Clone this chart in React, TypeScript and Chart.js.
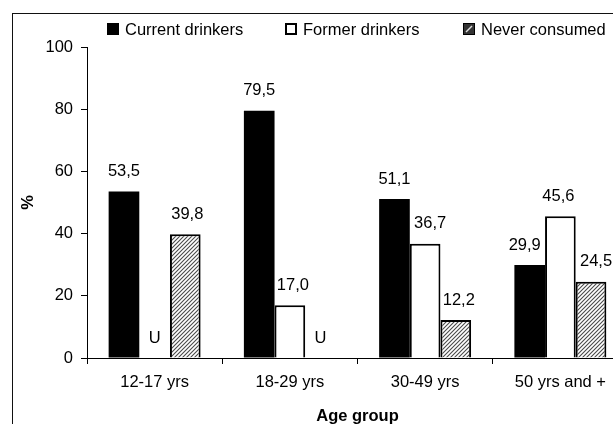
import React, { useEffect, useRef } from "react";
import { Chart, registerables } from "chart.js";

Chart.register(...registerables);

const categories = ["12-17 yrs", "18-29 yrs", "30-49 yrs", "50 yrs and +"];
const seriesNames = ["Current drinkers", "Former drinkers", "Never consumed"];
const currentDrinkers: (number | null)[] = [53.5, 79.5, 51.1, 29.9];
const formerDrinkers: (number | null)[] = [null, 17.0, 36.7, 45.6];
const neverConsumed: (number | null)[] = [39.8, null, 12.2, 24.5];
const yTicks = [0, 20, 40, 60, 80, 100];
const unreliableLabel = "U";
const xTitle = "Age group";
const yTitle = "%";

// style: small horizontal nudges of value labels (px), per series / category
const LABEL_NUDGE = [
  [0, 0, 0, -5],
  [0, 3, 5, -2],
  [2, 0, 3, 5],
];

const FONT = "'Liberation Sans', Arial, sans-serif";
const FS = 16.5;

function makeHatch(): CanvasPattern | string {
  const c = document.createElement("canvas");
  c.width = 4;
  c.height = 4;
  const g = c.getContext("2d");
  if (!g) return "#999";
  g.fillStyle = "#fff";
  g.fillRect(0, 0, 4, 4);
  g.strokeStyle = "#4a4a4a";
  g.lineWidth = 1.1;
  g.beginPath();
  g.moveTo(0, 4);
  g.lineTo(4, 0);
  g.moveTo(-1, 1);
  g.lineTo(1, -1);
  g.moveTo(3, 5);
  g.lineTo(5, 3);
  g.stroke();
  return g.createPattern(c, "repeat") || "#999";
}

const fmt = (v: number) => v.toFixed(1).replace(".", ",");

export default function App() {
  const ref = useRef<HTMLCanvasElement | null>(null);

  useEffect(() => {
    const canvas = ref.current;
    if (!canvas) return;
    const hatch = makeHatch();

    const dataLabels = {
      id: "dataLabels",
      afterDatasetsDraw(chart: any) {
        const ctx = chart.ctx;
        const yScale = chart.scales.y;
        ctx.save();
        ctx.fillStyle = "#000";
        ctx.font = `${FS}px ${FONT}`;
        ctx.textAlign = "center";
        ctx.textBaseline = "middle";
        chart.data.datasets.forEach((ds: any, i: number) => {
          const meta = chart.getDatasetMeta(i);
          meta.data.forEach((el: any, j: number) => {
            const v = ds.data[j];
            const text = v == null ? unreliableLabel : fmt(v);
            const y = yScale.getPixelForValue(v == null ? 0 : v) - 20;
            const dx = (LABEL_NUDGE[i] && LABEL_NUDGE[i][j]) || 0;
            ctx.fillText(text, el.x + dx, y);
          });
        });
        ctx.restore();
      },
    };

    const legendPlugin = {
      id: "customLegend",
      afterDraw(chart: any) {
        const ctx = chart.ctx;
        const xs = [107, 285, 463];
        const fills: any[] = ["#000", "#fff", hatch];
        ctx.save();
        ctx.font = `${FS}px ${FONT}`;
        ctx.textBaseline = "alphabetic";
        ctx.textAlign = "left";
        seriesNames.forEach((name, i) => {
          const x = xs[i];
          const y = 23;
          ctx.fillStyle = fills[i];
          ctx.fillRect(x, y, 12, 12);
          if (i > 0) {
            ctx.strokeStyle = "#000";
            ctx.lineWidth = 2;
            ctx.strokeRect(x + 1, y + 1, 10, 10);
          }
          if (i === 2) {
            ctx.fillStyle = "#333";
            ctx.fillRect(x + 1, y + 1, 10, 10);
            ctx.strokeStyle = "#ddd";
            ctx.lineWidth = 1.5;
            ctx.beginPath();
            ctx.moveTo(x + 3, y + 9);
            ctx.lineTo(x + 9, y + 3);
            ctx.stroke();
          }
          ctx.fillStyle = "#000";
          ctx.fillText(name, x + 18, 35);
        });
        ctx.restore();
      },
    };

    const chart = new Chart(canvas, {
      type: "bar",
      data: {
        labels: categories,
        datasets: [
          {
            label: seriesNames[0],
            data: currentDrinkers,
            backgroundColor: "#000",
            borderWidth: 0,
          },
          {
            label: seriesNames[1],
            data: formerDrinkers,
            backgroundColor: "#fff",
            borderColor: "#000",
            borderWidth: 2,
          },
          {
            label: seriesNames[2],
            data: neverConsumed,
            backgroundColor: hatch as any,
            borderColor: "#000",
            borderWidth: 2,
          },
        ] as any,
      },
      options: {
        responsive: false,
        animation: false,
        devicePixelRatio: 1,
        layout: { padding: { left: 0, top: 47, right: 72, bottom: 0 } },
        datasets: {
          bar: { categoryPercentage: 0.68, barPercentage: 1.0 },
        } as any,
        plugins: {
          legend: { display: false },
          tooltip: { enabled: false },
          title: { display: false },
        },
        scales: {
          x: {
            grid: {
              display: true,
              drawOnChartArea: false,
              drawTicks: true,
              tickLength: 6,
              color: "#000",
              offset: true,
            },
            border: { display: true, color: "#000", width: 1 },
            ticks: {
              color: "#000",
              font: { family: FONT, size: FS },
              padding: 9,
              maxRotation: 0,
              autoSkip: false,
            },
            title: {
              display: true,
              text: xTitle,
              color: "#000",
              font: { family: FONT, size: FS, weight: "bold" },
              padding: { top: 0, bottom: 24 },
            },
            afterFit: (s: any) => {
              s.height = 92;
            },
          } as any,
          y: {
            min: 0,
            max: 100,
            grid: {
              display: true,
              drawOnChartArea: false,
              drawTicks: true,
              tickLength: 6,
              color: "#000",
            },
            border: { display: true, color: "#000", width: 1 },
            ticks: {
              color: "#000",
              font: { family: FONT, size: FS },
              padding: 8,
            },
            afterBuildTicks: (s: any) => {
              s.ticks = yTicks.map((v) => ({ value: v }));
            },
            title: {
              display: true,
              text: yTitle,
              color: "#000",
              font: { family: FONT, size: FS, weight: "bold" },
              padding: { top: 19, bottom: 0 },
            },
            afterFit: (s: any) => {
              s.width = 87;
            },
          } as any,
        },
      },
      plugins: [dataLabels, legendPlugin],
    });

    return () => chart.destroy();
  }, []);

  return (
    <div
      style={{
        position: "fixed",
        left: 0,
        top: 0,
        width: 613,
        height: 424,
        overflow: "hidden",
        background: "#fff",
      }}
    >
      <div
        style={{
          position: "absolute",
          left: 12,
          top: 13,
          width: 800,
          height: 800,
          border: "1px solid #111",
          boxSizing: "border-box",
        }}
      />
      <canvas
        ref={ref}
        width={700}
        height={450}
        style={{ position: "absolute", left: 0, top: 0, width: 700, height: 450 }}
      />
    </div>
  );
}
